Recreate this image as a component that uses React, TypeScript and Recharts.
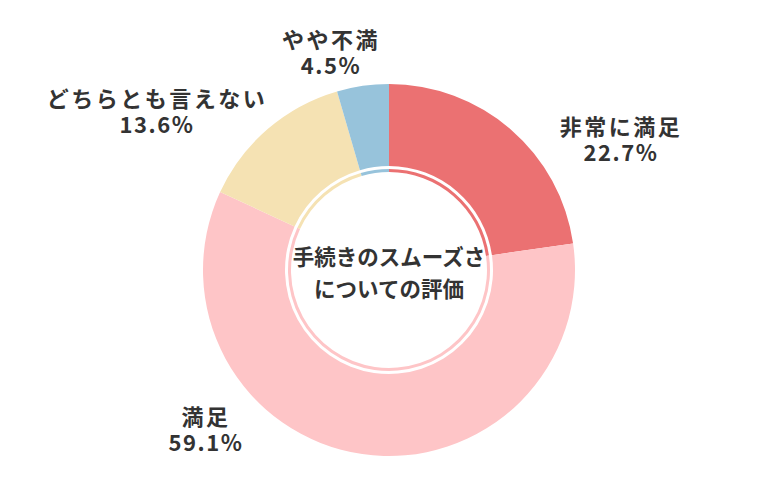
import { PieChart, Pie, Cell } from 'recharts';

const categories = ['非常に満足', '満足', 'どちらとも言えない', 'やや不満'];
const shares = [22.7, 59.1, 13.6, 4.5];
const colors = ['#EB7172', '#FEC5C7', '#F5E2B3', '#97C3DB'];
const centerLines = ['手続きのスムーズさ', 'についての評価'];

// label anchors, offset from the pie centre (first line centre)
const labelOffsets = [
  [232, -145],
  [-183, 145],
  [-232, -173],
  [-58, -232],
];

const data = categories.map((name, i) => ({ name, value: shares[i] }));

const FONT = '"Noto Sans CJK JP", "Noto Sans", sans-serif';

const renderLabel = (props: any) => {
  const { cx, cy, index } = props;
  const [dx, dy] = labelOffsets[index];
  const x = cx + dx;
  const y = cy + dy;
  return (
    <g key={`lbl-${index}`}>
      <text x={x} y={y} textAnchor="middle" dominantBaseline="central" fill="#333" fontSize={22} fontWeight={700} letterSpacing={2.5} fontFamily={FONT}>
        {categories[index]}
      </text>
      <text x={x} y={y + 26} textAnchor="middle" dominantBaseline="central" fill="#333" fontSize={22} fontWeight={700} letterSpacing={1.5} fontFamily={FONT}>
        {`${shares[index]}%`}
      </text>
    </g>
  );
};

// centre caption, drawn once from the inner ring's centre
const renderCenter = (props: any) => {
  const { cx, cy, index } = props;
  if (index !== 0) return null;
  return (
    <g key="center">
      {centerLines.map((line, i) => (
        <text key={line} x={cx} y={cy - 15 + i * 32} textAnchor="middle" dominantBaseline="central" fill="#333" fontSize={21.5} fontWeight={700} fontFamily={FONT}>
          {line}
        </text>
      ))}
    </g>
  );
};

export default function App() {
  return (
    <div style={{ position: 'absolute', left: 0, top: 0, width: 780, height: 500, background: '#fff' }}>
      <PieChart width={780} height={500} margin={{ top: 0, right: 0, bottom: 0, left: 0 }}>
        <Pie
          data={data}
          dataKey="value"
          cx={389}
          cy={270}
          innerRadius={98}
          outerRadius={101}
          startAngle={90}
          endAngle={-270}
          stroke="none"
          label={renderCenter}
          labelLine={false}
          isAnimationActive={false}
        >
          {data.map((d, i) => (
            <Cell key={d.name} fill={colors[i]} />
          ))}
        </Pie>
        <Pie
          data={data}
          dataKey="value"
          cx={389}
          cy={270}
          innerRadius={104}
          outerRadius={186}
          startAngle={90}
          endAngle={-270}
          stroke="none"
          label={renderLabel}
          labelLine={false}
          isAnimationActive={false}
        >
          {data.map((d, i) => (
            <Cell key={d.name} fill={colors[i]} />
          ))}
        </Pie>
      </PieChart>
    </div>
  );
}
